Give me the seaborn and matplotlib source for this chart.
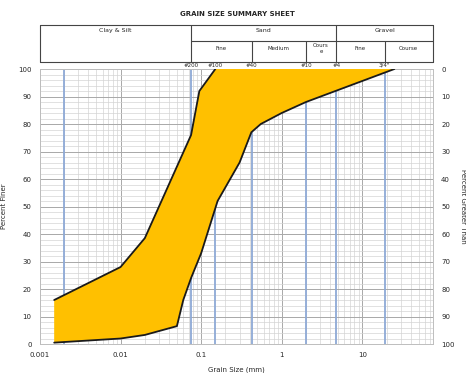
import numpy as np
import pandas as pd
import seaborn as sns
import matplotlib
matplotlib.use("Agg")
import matplotlib.pyplot as plt
from matplotlib.ticker import LogLocator, MultipleLocator, FixedLocator, FixedFormatter
from matplotlib.transforms import blended_transform_factory

# ---- data ----
fine_size = [0.0015, 0.01, 0.02, 0.075, 0.095, 0.15]
fine_pct = [16, 28, 38.5, 76, 92, 100]
coarse_size = [0.0015, 0.01, 0.02, 0.05, 0.06, 0.075, 0.1, 0.16, 0.3, 0.42, 0.55, 1.0, 2.0, 25.0]
coarse_pct = [0.5, 2, 3.3, 6.5, 16, 24, 33, 52, 66, 77, 80, 84, 88, 100]
sieve_sizes = [0.075, 0.15, 0.425, 2.0, 4.75, 19.0]
sieve_labels = ["#200", "#100", "#40", "#10", "#4", '3/4"']
clay_limit = 0.002
x_ticks = [0.001, 0.01, 0.1, 1, 10]
x_tick_labels = ["0.001", "0.01", "0.1", "1", "10"]
main_groups = ["Clay & Silt", "Sand", "Gravel"]
group_bounds = [(0.001, 0.075), (0.075, 4.75), (4.75, 75)]
sub_groups = ["Fine", "Medium", "Cours\ne", "Fine", "Course"]
sub_bounds = [(0.075, 0.425), (0.425, 2.0), (2.0, 4.75), (4.75, 19.0), (19.0, 75)]

sns.set_style("white")
plt.rcParams['font.family'] = ['DejaVu Sans']

fig = plt.figure(figsize=(4.66, 3.73), dpi=100)
ax = fig.add_axes([0.0858, 0.0777, 0.843, 0.7373])

ax.set_xscale("log")
ax.set_xlim(0.001, 75)
ax.set_ylim(0, 100)

# grid
ax.xaxis.set_major_locator(FixedLocator(x_ticks))
ax.xaxis.set_major_formatter(FixedFormatter(x_tick_labels))
ax.xaxis.set_minor_locator(LogLocator(base=10, subs=np.arange(2, 10)))
ax.xaxis.set_minor_formatter(plt.NullFormatter())
ax.yaxis.set_major_locator(MultipleLocator(10))
ax.yaxis.set_minor_locator(MultipleLocator(2))
ax.grid(which="major", color="#a8a8a8", lw=0.7)
ax.grid(which="minor", color="#d4d4d4", lw=0.5)
ax.set_axisbelow(True)

for s in sieve_sizes + [clay_limit]:
    ax.axvline(s, color="#8ea9d6", lw=1.3, zorder=1)

# envelope
poly_x = fine_size + coarse_size[::-1]
poly_y = fine_pct + coarse_pct[::-1]
ax.fill(poly_x, poly_y, color="#FFC000", zorder=3, lw=0)
df_f = pd.DataFrame({"size": fine_size, "pct": fine_pct})
df_c = pd.DataFrame({"size": coarse_size, "pct": coarse_pct})
for d in (df_f, df_c):
    sns.lineplot(data=d, x="size", y="pct", sort=False, color="#1a1a1a", lw=1.3, ax=ax, zorder=4)

ax.set_xlabel("Grain Size (mm)", fontsize=5, labelpad=6)
ax.set_ylabel("Percent Finer", fontsize=5, labelpad=8)
ax.tick_params(axis="both", which="both", length=0, labelsize=5, pad=6)
for sp in ax.spines.values():
    sp.set_color("#bdbdbd")
    sp.set_linewidth(0.7)

ax2 = ax.twinx()
ax2.set_ylim(100, 0)
ax2.yaxis.set_major_locator(MultipleLocator(10))
ax2.tick_params(axis="y", length=0, labelsize=5, pad=6)
ax2.set_ylabel("Percent Greater Than", fontsize=5, labelpad=4, rotation=270, va="bottom")
for sp in ax2.spines.values():
    sp.set_visible(False)

# sieve labels on top
tr = blended_transform_factory(ax.transData, ax.transAxes)
for s, lab in zip(sieve_sizes, sieve_labels):
    ax.text(s, 1.005, lab, transform=tr, ha="center", va="bottom", fontsize=4, zorder=5)

# header table
y_top, y_mid, y_bot = 1.16, 1.102, 1.027
kw = dict(transform=tr, color="#444444", lw=0.8, clip_on=False)
ax.plot([0.001, 75], [y_top, y_top], **kw)
ax.plot([0.001, 75], [y_bot, y_bot], **kw)
ax.plot([0.075, 75], [y_mid, y_mid], **kw)
for xv in [0.001, 0.075, 4.75, 75]:
    ax.plot([xv, xv], [y_bot, y_top], **kw)
for xv in [0.425, 2.0, 19.0]:
    ax.plot([xv, xv], [y_bot, y_mid], **kw)
for name, (a, b) in zip(main_groups, group_bounds):
    ax.text(np.sqrt(a * b), y_top - 0.012, name, transform=tr, ha="center", va="top", fontsize=4.5)
for name, (a, b) in zip(sub_groups, sub_bounds):
    ax.text(np.sqrt(a * b), (y_mid + y_bot) / 2 + 0.01, name, transform=tr, ha="center", va="center", fontsize=4)

fig.text(0.51, 0.963, "GRAIN SIZE SUMMARY SHEET", ha="center", va="center", fontsize=5, fontweight="bold")

fig.savefig("out.png", dpi=100)
